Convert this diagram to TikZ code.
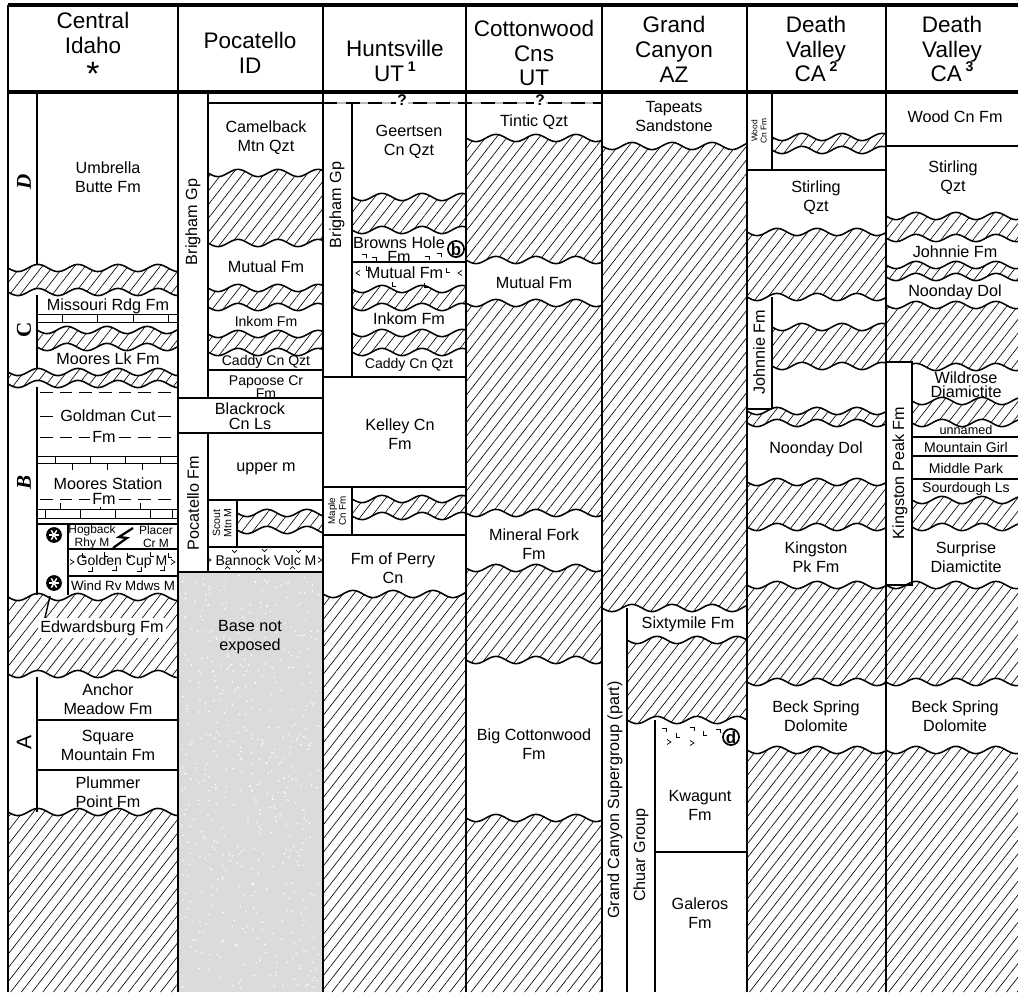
\documentclass[tikz,border=0pt]{standalone}
\usepackage{fontspec}
\setmainfont{Liberation Sans}
\newfontfamily\zonefont{Liberation Serif}
\usetikzlibrary{patterns.meta}

% hatched hiatus between two wavy contacts (x from #1 to #2, levels #3 and #4)
\newcommand{\hiatus}[4]{%
  \fill[hatch] plot[domain=#1:#2,samples=60,smooth] (\x,{#3+3.6*sin(9*(\x-#1))})
     -- plot[domain=#2:#1,samples=60,smooth] (\x,{#4+3.6*sin(9*(\x-#1))}) -- cycle;
  \draw[contact] plot[domain=#1:#2,samples=60,smooth] (\x,{#3+3.6*sin(9*(\x-#1))});
  \draw[contact] plot[domain=#1:#2,samples=60,smooth] (\x,{#4+3.6*sin(9*(\x-#1))});}
% hatched hiatus from a wavy contact down to the foot of the chart
\newcommand{\hiatusbase}[3]{%
  \fill[hatch] plot[domain=#1:#2,samples=60,smooth] (\x,{#3+3.6*sin(9*(\x-#1))})
     -- (#2,992) -- (#1,992) -- cycle;
  \draw[contact] plot[domain=#1:#2,samples=60,smooth] (\x,{#3+3.6*sin(9*(\x-#1))});}
\newcommand{\supnum}[1]{\raisebox{.45em}{\bfseries\fontsize{10}{10}\selectfont #1}}

\begin{document}
\begin{tikzpicture}[x=0.025cm, y=-0.025cm,
    hatch/.style={pattern={Lines[angle=52,distance=6pt,line width=.45pt]}},
    contact/.style={line width=1.1pt},
    bed/.style={line width=1.1pt},
    rule/.style={line width=2pt},
    head/.style={font=\fontsize{16}{17.7}\selectfont, align=center, inner sep=0pt},
    fm/.style={font=\fontsize{11.5}{13.5}\selectfont, align=center, inner sep=1pt},
    fms/.style={font=\fontsize{10}{11}\selectfont, align=center, inner sep=.5pt},
    fmxs/.style={font=\fontsize{8.5}{9.5}\selectfont, align=center, inner sep=.5pt},
    knock/.style={fill=white, inner sep=1.5pt},
    grp/.style={fm, rotate=90},
    tinygrp/.style={rotate=90, align=center, inner sep=0pt},
    zone/.style={font=\zonefont\fontsize{15}{15}\selectfont, rotate=90},
    sitecirc/.style={circle, draw, line width=1.2pt, fill=white, inner sep=0pt,
                     minimum size=11pt, font=\bfseries\fontsize{12}{12}\selectfont},
    volc/.style={line width=.5pt},
    shaledash/.style={dash pattern=on 9pt off 5pt, line width=.6pt},
    lime/.style={line width=.6pt}]
    \fill[white] (0,0) rectangle (1018,992);
    \useasboundingbox (0,0) rectangle (1018,992);

    %% Central Idaho
    \hiatus{8}{178}{268}{292}
    \hiatus{37}{178}{330}{347}
    \hiatus{8}{178}{372}{384}
    \hiatus{8}{178}{597}{674}
    \hiatusbase{8}{178}{812}
    % limestone and shale
    \draw[lime] (37,314) -- (178,314) (37,322) -- (178,322);
    \foreach \t in {62,97,133,168} \draw[lime] (\t,314) -- (\t,322);
    \draw[lime] (37,456) -- (178,456) (37,463) -- (178,463);
    \foreach \t in {55,90,125,160} \draw[lime] (\t,456) -- (\t,463);
    \foreach \t in {72,107,142} \draw[lime] (\t,463) -- (\t,470);
    \foreach \t in {60,100,140} \draw[lime] (\t,503) -- (\t,509);
    \draw[lime] (37,509) -- (178,509) (37,518) -- (178,518);
    \foreach \t in {45,80,115,150,172} \draw[lime] (\t,509) -- (\t,518);
    \draw[shaledash] (40,392) -- (178,392) (40,416) -- (178,416)
                     (40,437) -- (178,437) (40,499) -- (178,499);
    \draw[bed] (37,92) -- (37,265) (37,295) -- (37,369) (37,387) -- (37,595)
               (37,677) -- (37,812);
    \draw[bed] (68,524) -- (68,595);
    \draw[line width=1.5pt] (37,524) -- (178,524);
    \draw[bed] (68,549) -- (178,549) (68,576) -- (178,576);
    \draw[bed] (37,720) -- (178,720) (37,770) -- (178,770);
    \draw[line width=1.6pt] (133,528) -- (119,537) -- (127,538) -- (113,548);
    \draw[line width=1pt] (50,596) -- (44,622) -- (53,628);
    \foreach \c in {535,583} {
        \fill (54,\c) circle (5.6pt);
        \foreach \a in {0,60,120}
            \draw[white,line width=1pt] (54,\c) ++(\a:3.8pt) -- ++({\a+180}:7.6pt);
    }
    \foreach \p/\q in {82/553,104/552,127/553,150/552,168/553}
        \draw[volc] (\p,\q) -- ++(0,4) -- ++(4,0);
    \foreach \p/\q in {88/571,112/570,137/571,160/570}
        \draw[volc] (\p,\q) -- ++(4,0) -- ++(0,-4);
    \foreach \p/\q in {70/562,171/562,207/560,318/560}
        \draw[volc] (\p,\q) ++(0,-2.5) -- ++(4,2.5) -- ++(-4,2.5);

    \node[zone] (zoneD) at (24,182) {\itshape\bfseries D};
    \node[zone] (zoneC) at (24,330) {\bfseries C};
    \node[zone] (zoneB) at (24,482) {\itshape\bfseries B};
    \node[rotate=90, font=\fontsize{15}{15}\selectfont] (zoneA) at (24,742) {A};
    \node[fm] (umb) at (108,177) {Umbrella\\Butte Fm};
    \node[fm] (mis) at (108,306) {Missouri Rdg Fm};
    \node[fm] (mlk) at (108,359) {Moores Lk Fm};
    \node[fm,knock] (gcut) at (108,416) {Goldman Cut};
    \node[fm,knock] (gcutfm) at (104,437) {Fm};
    \node[fm] (mst) at (108,484) {Moores Station};
    \node[fm,knock] (mstfm) at (104,499) {Fm};
    \node[fmxs] (hog) at (92,537) {Hogback\\Rhy M};
    \node[fmxs] (plc) at (156,537) {Placer\\Cr M};
    \node[fms] (gcup) at (122,562) {Golden Cup M};
    \node[fms, font=\fontsize{9.5}{10}\selectfont] (wrm) at (123,586) {Wind Rv Mdws M};
    \node[fm,knock] (edw) at (102,628) {Edwardsburg Fm};
    \node[fm] (anc) at (108,699) {Anchor\\Meadow Fm};
    \node[fm] (sqm) at (108,745) {Square\\Mountain Fm};
    \node[fm] (plm) at (108,792) {Plummer\\Point Fm};

    %% Pocatello
    \draw[bed] (208,92) -- (208,398);
    \draw[bed] (208,103) -- (323,103);
    \hiatus{208}{323}{173}{243}
    \hiatus{208}{323}{288}{307}
    \hiatus{208}{323}{334}{352}
    \draw[bed] (208,370) -- (323,370);
    \draw[bed] (178,398) -- (323,398) (178,433) -- (323,433);
    \draw[bed] (208,433) -- (208,572);
    \draw[bed] (208,500) -- (323,500) (237,500) -- (237,547) (208,547) -- (323,547);
    \hiatus{237}{323}{513}{530}
    \foreach \p/\q in {232/550,262/549,296/550}
        \draw[volc] (\p,\q) -- ++(2.5,2.5) -- ++(2.5,-2.5);
    \foreach \p/\q in {225/569,256/570,290/569}
        \draw[volc] (\p,\q) -- ++(2.5,-2.5) -- ++(2.5,2.5);
    % base not exposed
    \fill[gray!28] (178,572) rectangle (323,992);
    \pgfmathsetseed{11}
    \foreach \i in {1,...,550} \fill[white] ({181+rnd*139},{575+rnd*414}) circle (.6pt);
    \draw[bed] (178,572) -- (323,572);

    \node[grp] (brig1) at (193,222) {Brigham Gp};
    \node[fm] (cam) at (266,138) {Camelback\\Mtn Qzt};
    \node[fm] (mut1) at (266,267) {Mutual Fm};
    \node[fms] (ink1) at (266,321) {Inkom Fm};
    \node[fms] (cad1) at (266,362) {Caddy Cn Qzt};
    \node[fms, font=\fontsize{10}{9.5}\selectfont] (pap) at (266,387) {Papoose Cr\\Fm};
    \node[fm, font=\fontsize{11.5}{11}\selectfont] (blk) at (250,416) {Blackrock\\Cn Ls};
    \node[grp] (pocfm) at (193,503) {Pocatello Fm};
    \node[fm] (upm) at (266,469) {upper m};
    \node[tinygrp, font=\fontsize{7.5}{8}\selectfont] (scout) at (222,523) {Scout\\Mtn M};
    \node[fms] (ban) at (266,560) {Bannock Volc M};
    \node[fm, font=\fontsize{11.5}{14}\selectfont] (base) at (250,637) {Base not\\exposed};

    %% Huntsville
    \draw[gray!55, line width=1.2pt] (323,103) -- (602,103);
    \draw[line width=1.6pt, dash pattern=on 10pt off 6pt] (323,103) -- (602,103);
    \draw[bed] (352,103) -- (352,377);
    \hiatus{352}{466}{197}{230}
    \draw[bed] (352,262) -- (466,262);
    \hiatus{352}{466}{289}{307}
    \hiatus{352}{466}{333}{352}
    \draw[bed] (323,377) -- (466,377) (323,487) -- (466,487)
               (352,487) -- (352,535) (323,535) -- (466,535);
    \hiatus{352}{466}{499}{516}
    \hiatusbase{323}{466}{594}
    \foreach \p/\q in {362/254,372/257,425/256,437/253}
        \draw[volc] (\p,\q) -- ++(4,0) -- ++(0,4);
    \foreach \p/\q in {366/266,446/268,392/282,424/283}
        \draw[volc] (\p,\q) -- ++(0,4) -- ++(4,0);
    \foreach \p/\q in {356/273,458/273}
        \draw[volc] (\p,\q) ++(4,-2.5) -- ++(-4,2.5) -- ++(4,2.5);

    \node[knock, font=\bfseries\fontsize{11}{11}\selectfont, inner sep=1pt] (q1) at (402,100) {?};
    \node[knock, font=\bfseries\fontsize{11}{11}\selectfont, inner sep=1pt] (q2) at (540,100) {?};
    \node[grp] (brig2) at (337,205) {Brigham Gp};
    \node[fm] (geer) at (409,142) {Geertsen\\Cn Qzt};
    \node[fm, font=\fontsize{11.5}{10}\selectfont] (bhole) at (399,250) {Browns Hole\\Fm};
    \node[sitecirc] (siteb) at (456,249) {b};
    \node[fm] (mut2) at (405,273) {Mutual Fm};
    \node[fm] (ink2) at (409,319) {Inkom Fm};
    \node[fms] (cad2) at (409,365) {Caddy Cn Qzt};
    \node[fm] (kel) at (400,434) {Kelley Cn\\Fm};
    \node[tinygrp, font=\fontsize{7}{7.5}\selectfont] (maple) at (337,511) {Maple\\Cn Fm};
    \node[fm] (perry) at (393,568) {Fm of Perry\\Cn};

    %% Cottonwood Canyons
    \hiatus{466}{602}{138}{260}
    \hiatus{466}{602}{303}{513}
    \hiatus{466}{602}{568}{660}
    \hiatusbase{466}{602}{818}
    \node[fm] (tin) at (534,122) {Tintic Qzt};
    \node[fm] (mut3) at (534,283) {Mutual Fm};
    \node[fm] (minf) at (534,544) {Mineral Fork\\Fm};
    \node[fm] (bigc) at (534,744) {Big Cottonwood\\Fm};

    %% Grand Canyon
    \hiatus{602}{747}{146}{608}
    \draw[bed] (627,608) -- (627,992);
    \hiatus{627}{747}{640}{720}
    \draw[bed] (655,720) -- (655,992) (655,852) -- (747,852);
    \foreach \p/\q in {662/728,690/727,716/729}
        \draw[volc] (\p,\q) -- ++(4,0) -- ++(0,4);
    \foreach \p/\q in {676/733,703/731}
        \draw[volc] (\p,\q) -- ++(0,4) -- ++(4,0);
    \foreach \p/\q in {667/742,690/743}
        \draw[volc] (\p,\q) ++(0,-2.5) -- ++(4,2.5) -- ++(-4,2.5);
    \node[fm] (tap) at (674,117) {Tapeats\\Sandstone};
    \node[fm] (six) at (688,624) {Sixtymile Fm};
    \node[grp] (gcsg) at (615,800) {Grand Canyon Supergroup (part)};
    \node[grp] (chuar) at (641,855) {Chuar Group};
    \node[sitecirc] (sited) at (731,737) {d};
    \node[fm] (kwa) at (700,805) {Kwagunt\\Fm};
    \node[fm] (gal) at (700,913) {Galeros\\Fm};

    %% Death Valley (2)
    \draw[bed] (772,92) -- (772,170) (747,170) -- (886,170);
    \hiatus{772}{886}{137}{150}
    \hiatus{747}{886}{232}{297}
    \hiatus{772}{886}{327}{366}
    \draw[bed] (772,297) -- (772,409) (747,409) -- (772,409);
    \hiatus{747}{886}{411}{423}
    \hiatus{747}{886}{482}{527}
    \hiatus{747}{886}{585}{682}
    \hiatusbase{747}{886}{750}
    \node[tinygrp, font=\fontsize{6}{6.5}\selectfont] (wood2) at (759,131) {Wood\\Cn Fm};
    \node[fm] (stir2) at (816,198) {Stirling\\Qzt};
    \node[grp] (john2) at (759,352) {Johnnie Fm};
    \node[fm] (noon2) at (816,449) {Noonday Dol};
    \node[fm] (king2) at (816,557) {Kingston\\Pk Fm};
    \node[fm] (beck2) at (816,716) {Beck Spring\\Dolomite};

    %% Death Valley (3)
    \draw[bed] (886,146) -- (1018,146);
    \hiatus{886}{1018}{216}{238}
    \hiatus{886}{1018}{265}{277}
    \hiatus{886}{1018}{305}{367}
    \filldraw[bed, fill=white] (886,362) rectangle (912,585);
    \hiatus{912}{1018}{401}{423}
    \draw[bed] (912,437) -- (1018,437) (912,456) -- (1018,456) (912,479) -- (1018,479);
    \hiatus{912}{1018}{500}{527}
    \hiatus{886}{1018}{585}{682}
    \hiatusbase{886}{1018}{750}
    \node[fm] (wood3) at (955,117) {Wood Cn Fm};
    \node[fm] (stir3) at (953,178) {Stirling\\Qzt};
    \node[fm] (john3) at (955,252) {Johnnie Fm};
    \node[fm] (noon3) at (955,292) {Noonday Dol};
    \node[grp] (kpk) at (900,473) {Kingston Peak Fm};
    \node[fm, font=\fontsize{11.5}{10}\selectfont] (wild) at (966,385) {Wildrose\\Diamictite};
    \node[fms, font=\fontsize{9}{9}\selectfont] (unn) at (966,430) {unnamed};
    \node[fms] (mgirl) at (966,447) {Mountain Girl};
    \node[fms] (mpark) at (966,468) {Middle Park};
    \node[fms] (sourd) at (966,489) {Sourdough Ls};
    \node[fm] (surp) at (966,557) {Surprise\\Diamictite};
    \node[fm] (beck3) at (955,716) {Beck Spring\\Dolomite};

    %% column heads and rules
    \node[head] (hCI) at (93,49) {Central\\Idaho\\\raisebox{-.3em}{\fontsize{24}{10}\selectfont *}};
    \node[head] (hPO) at (250,53) {Pocatello\\ID};
    \node[head] (hHU) at (395,61) {Huntsville\\UT\,\supnum{1}};
    \node[head] (hCW) at (534,53) {Cottonwood\\Cns\\UT};
    \node[head] (hGC) at (674,49) {Grand\\Canyon\\AZ};
    \node[head] (hDV2) at (816,49) {Death\\Valley\\CA\,\supnum{2}};
    \node[head] (hDV3) at (952,49) {Death\\Valley\\CA\,\supnum{3}};
    \draw[line width=2.4pt] (8,5) -- (1018,5) (8,92) -- (1018,92);
    \draw[rule] (8,5) -- (8,992);
    \foreach \cx in {178,323,466,602,747,886} \draw[rule] (\cx,5) -- (\cx,992);
\end{tikzpicture}
\end{document}
